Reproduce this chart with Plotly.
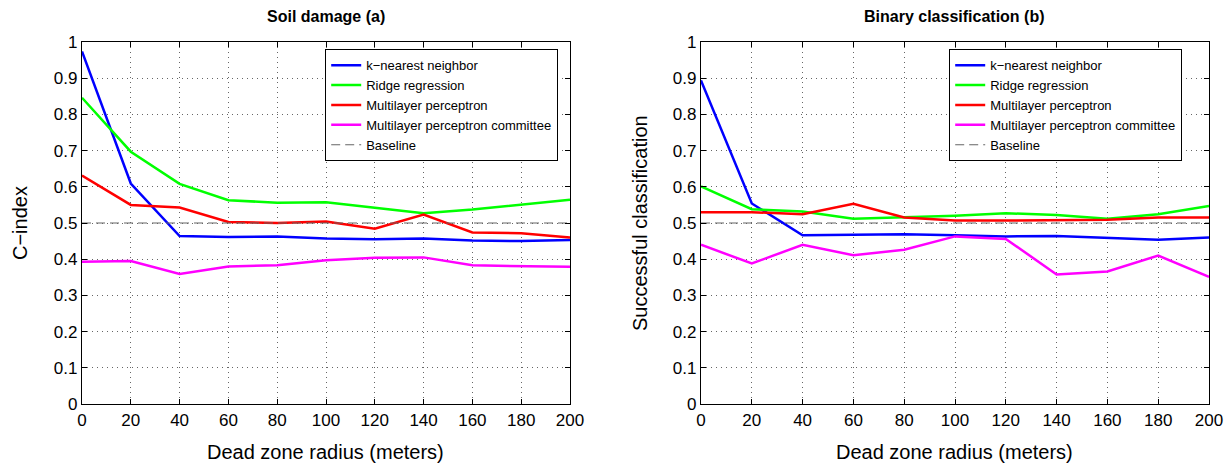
import plotly.graph_objects as go

radius = [0, 20, 40, 60, 80, 100, 120, 140, 160, 180, 200]

# Soil damage (a) - C-index
a_knn = [0.974, 0.609, 0.464, 0.461, 0.463, 0.457, 0.455, 0.457, 0.452, 0.450, 0.453]
a_ridge = [0.846, 0.697, 0.608, 0.563, 0.556, 0.557, 0.542, 0.527, 0.537, 0.551, 0.564]
a_mlp = [0.631, 0.550, 0.543, 0.503, 0.500, 0.504, 0.484, 0.523, 0.474, 0.472, 0.460]
a_comm = [0.393, 0.395, 0.359, 0.380, 0.383, 0.397, 0.404, 0.405, 0.383, 0.381, 0.379]

# Binary classification (b)
b_knn = [0.894, 0.554, 0.466, 0.468, 0.469, 0.466, 0.463, 0.464, 0.459, 0.454, 0.460]
b_ridge = [0.601, 0.538, 0.532, 0.512, 0.516, 0.520, 0.527, 0.522, 0.512, 0.524, 0.547]
b_mlp = [0.530, 0.530, 0.524, 0.553, 0.515, 0.507, 0.507, 0.507, 0.509, 0.515, 0.515]
b_comm = [0.440, 0.388, 0.440, 0.411, 0.426, 0.463, 0.456, 0.358, 0.366, 0.410, 0.351]

baseline_x = [0, 200]
baseline_y = [0.5, 0.5]

names = ["k\u2212nearest neighbor", "Ridge regression", "Multilayer perceptron",
         "Multilayer perceptron committee"]
colors = ["#0000ff", "#00ff00", "#ff0000", "#ff00ff"]

titles = ["<b>Soil damage (a)</b>", "<b>Binary classification (b)</b>"]
ytitles = ["C\u2212index", "Successful classification"]
xtitle = "Dead zone radius (meters)"
ytick_vals = [0, 0.1, 0.2, 0.3, 0.4, 0.5, 0.6, 0.7, 0.8, 0.9, 1]
ytick_text = ["0", "0.1", "0.2", "0.3", "0.4", "0.5", "0.6", "0.7", "0.8", "0.9", "1"]

FONT = "Liberation Sans, Arial, Helvetica, sans-serif"
W, H = 1230, 465

fig = go.Figure()

panels = [(a_knn, a_ridge, a_mlp, a_comm), (b_knn, b_ridge, b_mlp, b_comm)]
for p, series in enumerate(panels):
    xa = "x" if p == 0 else "x2"
    ya = "y" if p == 0 else "y2"
    leg = "legend" if p == 0 else "legend2"
    for name, col, vals in zip(names, colors, series):
        fig.add_trace(go.Scatter(x=radius, y=vals, mode="lines", name=name,
                                 line=dict(color=col, width=2.5),
                                 xaxis=xa, yaxis=ya, legend=leg))
    fig.add_trace(go.Scatter(x=baseline_x, y=baseline_y, mode="lines", name="Baseline",
                             line=dict(color="#666666", width=1.2, dash="9px,5px"),
                             xaxis=xa, yaxis=ya, legend=leg))

xpix = [(82, 570), (701, 1209)]
ypix = (42, 404)
xdoms = [[a / W, b / W] for a, b in xpix]
ydom = [(H - ypix[1]) / H, (H - ypix[0]) / H]

axis_common = dict(
    showline=True, linecolor="black", linewidth=1.2, mirror="allticks",
    ticks="inside", ticklen=5, tickcolor="black",
    showgrid=True, gridcolor="#666666", griddash="1px,4px", gridwidth=1,
    zeroline=False, automargin=False,
    tickfont=dict(family=FONT, size=17, color="black"),
)

layout = dict(
    width=W, height=H,
    margin=dict(l=0, r=0, t=0, b=0, autoexpand=False),
    paper_bgcolor="white", plot_bgcolor="white",
    font=dict(family=FONT, color="black"),
    showlegend=True,
)

for p in range(2):
    sfx = "" if p == 0 else "2"
    layout["xaxis" + sfx] = dict(
        axis_common, domain=xdoms[p], range=[0, 200], tickvals=radius,
        anchor="y" + sfx,
    )
    layout["yaxis" + sfx] = dict(
        axis_common, domain=ydom, range=[0, 1],
        tickvals=ytick_vals, ticktext=ytick_text,
        anchor="x" + sfx,
    )

leg_common = dict(
    bgcolor="white", bordercolor="black", borderwidth=1.2,
    font=dict(family=FONT, size=13, color="black"),
    xanchor="left", yanchor="top", tracegroupgap=0, itemwidth=30,
)
layout["legend"] = dict(leg_common, x=325 / W, y=(H - 49) / H)
layout["legend2"] = dict(leg_common, x=949 / W, y=(H - 49) / H)

annotations = []
ytitle_x = [20, 640]
for p in range(2):
    cx = (xpix[p][0] + xpix[p][1]) / 2 / W
    annotations.append(dict(text=titles[p], x=cx, y=(H - 17) / H,
                            xref="paper", yref="paper", showarrow=False,
                            xanchor="center", yanchor="middle",
                            font=dict(family=FONT, size=16, color="black")))
    annotations.append(dict(text=xtitle, x=cx, y=(H - 452) / H,
                            xref="paper", yref="paper", showarrow=False,
                            xanchor="center", yanchor="middle",
                            font=dict(family=FONT, size=20, color="black")))
    annotations.append(dict(text=ytitles[p], x=ytitle_x[p] / W,
                            y=(H - (ypix[0] + ypix[1]) / 2) / H,
                            xref="paper", yref="paper", showarrow=False, textangle=-90,
                            xanchor="center", yanchor="middle",
                            font=dict(family=FONT, size=20, color="black")))
layout["annotations"] = annotations

fig.update_layout(**layout)
fig.write_html("out.html")
